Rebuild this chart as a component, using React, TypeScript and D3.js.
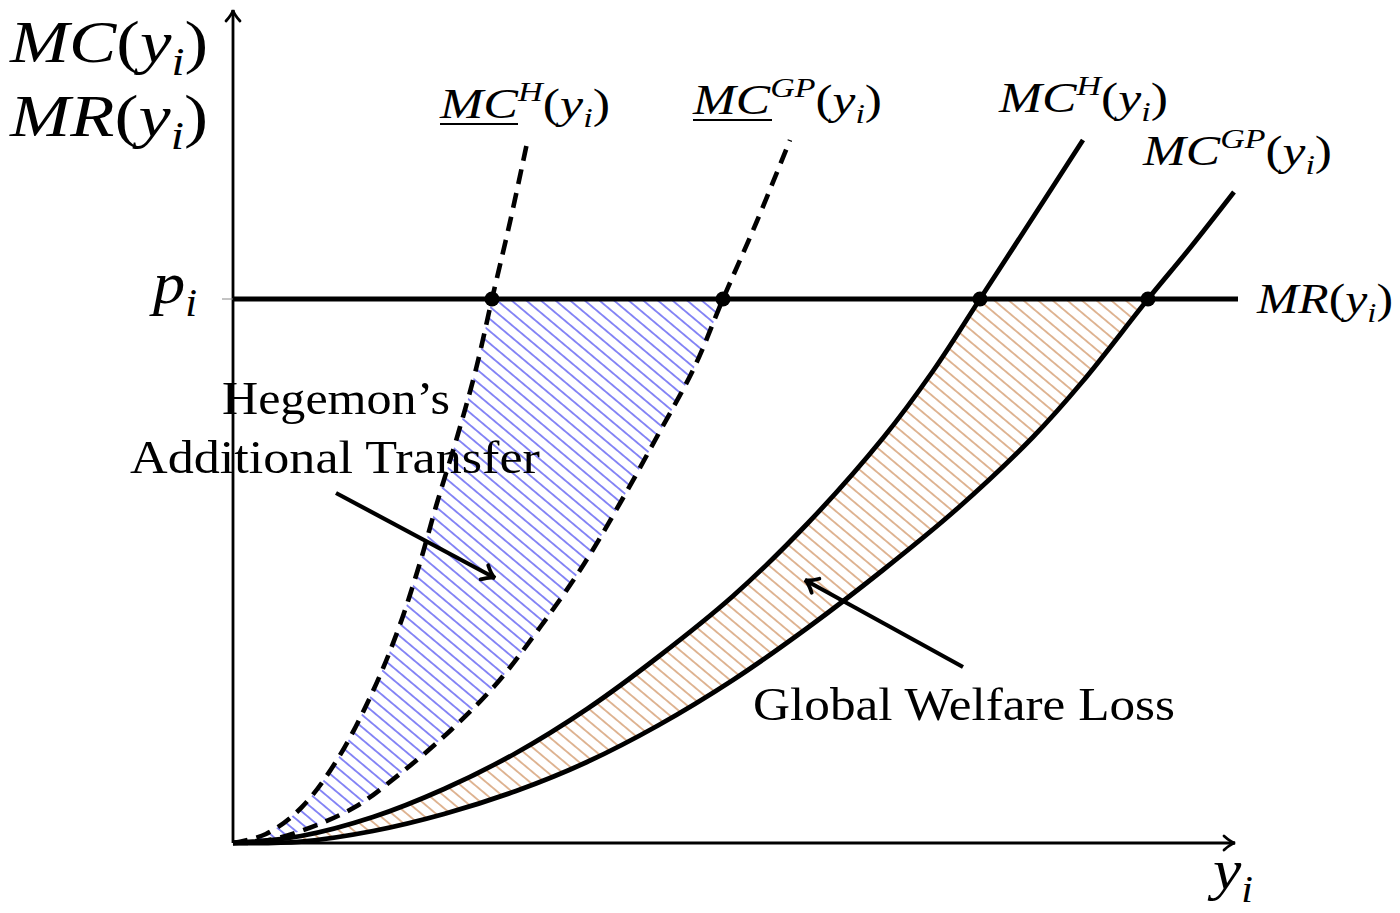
import React, { useEffect, useRef } from 'react';
import * as d3 from 'd3';

// price level where MR(y_i) crosses the cost curves
const priceLevel = 5.44;

// lower (underlined) Hegemon marginal cost, dashed
const mcHLowX = [0, 0.33, 0.68, 1.04, 1.4, 1.65, 1.86, 2.04, 2.25, 2.43, 2.59, 2.77, 2.94];
const mcHLowY = [0, 0.09, 0.35, 0.83, 1.52, 2.13, 2.77, 3.4, 4.09, 4.74, 5.44, 6.21, 7.0];

// lower (underlined) Great Power marginal cost, dashed
const mcGPLowX = [0, 0.26, 0.68, 1.22, 1.68, 2.18, 2.65, 3.08, 3.51, 3.9, 4.26, 4.61, 4.9, 5.24, 5.57];
const mcGPLowY = [0, 0.01, 0.12, 0.36, 0.7, 1.13, 1.61, 2.17, 2.79, 3.45, 4.1, 4.75, 5.44, 6.22, 7.03];

// Hegemon marginal cost, solid
const mcHX = [0, 0.68, 1.4, 2.11, 2.83, 3.54, 4.25, 5.0, 5.75, 6.5, 7.0, 7.47, 7.97, 8.5];
const mcHY = [0, 0.07, 0.26, 0.54, 0.9, 1.34, 1.86, 2.47, 3.2, 4.05, 4.72, 5.44, 6.21, 7.03];

// Great Power marginal cost, solid
const mcGPX = [0, 0.68, 1.4, 2.11, 2.83, 3.54, 4.25, 5.0, 5.75, 6.5, 7.25, 8.0, 8.5, 9.15, 9.57, 10.01];
const mcGPY = [0, 0.014, 0.12, 0.29, 0.52, 0.81, 1.175, 1.63, 2.155, 2.73, 3.35, 4.06, 4.62, 5.44, 5.95, 6.51];

// where each curve meets MR(y_i)
const crossX = [2.59, 4.9, 7.47, 9.15];

const FONT = '"Liberation Serif", "DejaVu Serif", serif';

type Part = [string, 'it' | 'up' | 'sub' | 'sup'];

const App: React.FC = () => {
  const svgRef = useRef<SVGSVGElement>(null);

  useEffect(() => {
    if (!svgRef.current) return;
    const svg = d3.select(svgRef.current);
    svg.selectAll('*').remove();

    const x = d3.scaleLinear().domain([0, 11.67]).range([233, 1400]);
    const y = d3.scaleLinear().domain([0, 8.43]).range([843, 0]);

    const zip = (xs: number[], ys: number[]) => xs.map((v, i) => [v, ys[i]] as [number, number]);
    const hLow = zip(mcHLowX, mcHLowY);
    const gpLow = zip(mcGPLowX, mcGPLowY);
    const hSolid = zip(mcHX, mcHY);
    const gpSolid = zip(mcGPX, mcGPY);

    const line = d3.line<[number, number]>()
      .x(d => x(d[0]))
      .y(d => y(d[1]))
      .curve(d3.curveCatmullRom.alpha(0.5));

    const defs = svg.append('defs');

    // hatch patterns
    const hatch = (id: string, color: string) => {
      const p = defs.append('pattern')
        .attr('id', id)
        .attr('patternUnits', 'userSpaceOnUse')
        .attr('width', 20)
        .attr('height', 9.4)
        .attr('patternTransform', 'rotate(40)');
      p.append('line')
        .attr('x1', 0).attr('x2', 20)
        .attr('y1', 4.7).attr('y2', 4.7)
        .attr('stroke', color)
        .attr('stroke-width', 1.6);
    };
    hatch('hatchBlue', '#6e6ef4');
    hatch('hatchOrange', '#d9a67e');

    // arrow heads (open, curved barbs)
    const arrow = (id: string, len: number, half: number, sw: number) => {
      defs.append('marker')
        .attr('id', id)
        .attr('markerUnits', 'userSpaceOnUse')
        .attr('viewBox', '-20 -15 30 30')
        .attr('markerWidth', 30)
        .attr('markerHeight', 30)
        .attr('refX', 0)
        .attr('refY', 0)
        .attr('orient', 'auto')
        .append('path')
        .attr('d', `M${-len},${-half} Q${-len * 0.4},-1 0,0 Q${-len * 0.4},1 ${-len},${half}`)
        .attr('fill', 'none')
        .attr('stroke', '#000')
        .attr('stroke-width', sw)
        .attr('stroke-linecap', 'round');
    };
    arrow('axisArrow', 11, 7, 2.8);
    arrow('noteArrow', 12, 8, 3.8);

    // shaded regions between curves, capped by MR
    const region = (a: [number, number][], b: [number, number][]) => {
      const lo = a.filter(d => d[1] <= priceLevel);
      const hi = b.filter(d => d[1] <= priceLevel).slice().reverse();
      const p1 = line(lo) as string;
      const p2 = (line(hi) as string).replace(/^M/, 'L');
      return p1 + p2 + 'Z';
    };
    svg.append('path').attr('d', region(hLow, gpLow)).attr('fill', 'url(#hatchBlue)');
    svg.append('path').attr('d', region(hSolid, gpSolid)).attr('fill', 'url(#hatchOrange)');

    // axes
    svg.append('line')
      .attr('x1', x(0)).attr('y1', y(0))
      .attr('x2', x(0)).attr('y2', y(8.33))
      .attr('stroke', '#000').attr('stroke-width', 2.8)
      .attr('marker-end', 'url(#axisArrow)');
    svg.append('line')
      .attr('x1', x(0)).attr('y1', y(0))
      .attr('x2', x(10.02)).attr('y2', y(0))
      .attr('stroke', '#000').attr('stroke-width', 2.8)
      .attr('marker-end', 'url(#axisArrow)');

    // p_i tick
    svg.append('line')
      .attr('x1', x(-0.11)).attr('x2', x(0))
      .attr('y1', y(priceLevel)).attr('y2', y(priceLevel))
      .attr('stroke', '#888').attr('stroke-width', 1);

    // MR line
    svg.append('line')
      .attr('x1', x(0)).attr('x2', x(10.05))
      .attr('y1', y(priceLevel)).attr('y2', y(priceLevel))
      .attr('stroke', '#000').attr('stroke-width', 5);

    // curves
    [hLow, gpLow].forEach(c => {
      svg.append('path')
        .attr('d', line(c) as string)
        .attr('fill', 'none')
        .attr('stroke', '#000')
        .attr('stroke-width', 4.6)
        .attr('stroke-dasharray', '15 9');
    });
    [hSolid, gpSolid].forEach(c => {
      svg.append('path')
        .attr('d', line(c) as string)
        .attr('fill', 'none')
        .attr('stroke', '#000')
        .attr('stroke-width', 4.8);
    });

    // intersection dots
    svg.selectAll('.dot')
      .data(crossX)
      .enter()
      .append('circle')
      .attr('class', 'dot')
      .attr('cx', d => x(d))
      .attr('cy', y(priceLevel))
      .attr('r', 7.5)
      .attr('fill', '#000');

    // annotation arrows
    svg.append('line')
      .attr('x1', 336).attr('y1', 493)
      .attr('x2', 495).attr('y2', 578)
      .attr('stroke', '#000').attr('stroke-width', 4.2)
      .attr('marker-end', 'url(#noteArrow)');
    svg.append('line')
      .attr('x1', 963).attr('y1', 667)
      .attr('x2', 805).attr('y2', 580)
      .attr('stroke', '#000').attr('stroke-width', 4.2)
      .attr('marker-end', 'url(#noteArrow)');

    // math labels
    const math = (px: number, py: number, size: number, parts: Part[], width?: number) => {
      const t = svg.append('text')
        .attr('x', px).attr('y', py)
        .style('font-family', FONT)
        .style('font-size', `${size}px`)
        .attr('fill', '#000');
      let shift = 0;
      parts.forEach(([s, kind]) => {
        const target = kind === 'sub' ? size * 0.22 : kind === 'sup' ? -size * 0.4 : 0;
        const ts = t.append('tspan').attr('dy', target - shift).text(s);
        shift = target;
        ts.style('font-style', kind === 'up' ? 'normal' : 'italic');
        if (kind === 'sub' || kind === 'sup') ts.style('font-size', `${size * 0.66}px`);
      });
      if (width) t.attr('textLength', width).attr('lengthAdjust', 'spacingAndGlyphs');
      return t;
    };

    const mcOf = (sup: string | null): Part[] => {
      const p: Part[] = [['MC', 'it']];
      if (sup) p.push([sup, 'sup']);
      p.push(['(', 'up'], ['y', 'it'], ['i', 'sub'], [')', 'up']);
      return p;
    };

    math(10, 62, 60, mcOf(null), 198);
    math(10, 136, 60, [['MR', 'it'], ['(', 'up'], ['y', 'it'], ['i', 'sub'], [')', 'up']], 198);
    math(153, 303, 60, [['p', 'it'], ['i', 'sub']], 44);
    math(1213, 889, 58, [['y', 'it'], ['i', 'sub']], 40);
    math(1257, 313, 42, [['MR', 'it'], ['(', 'up'], ['y', 'it'], ['i', 'sub'], [')', 'up']], 136);

    math(440, 118, 42, mcOf('H'), 170);
    math(693, 114, 42, mcOf('GP'), 189);
    math(999, 112, 42, mcOf('H'), 169);
    math(1143, 165, 42, mcOf('GP'), 189);

    // underlines for the lower-bound curves
    svg.append('line').attr('x1', 440).attr('x2', 518).attr('y1', 124).attr('y2', 124)
      .attr('stroke', '#000').attr('stroke-width', 2.2);
    svg.append('line').attr('x1', 693).attr('x2', 772).attr('y1', 120).attr('y2', 120)
      .attr('stroke', '#000').attr('stroke-width', 2.2);

    // plain text notes
    const note = (s: string, px: number, py: number, w: number) => {
      svg.append('text')
        .attr('x', px).attr('y', py)
        .attr('textLength', w)
        .attr('lengthAdjust', 'spacingAndGlyphs')
        .style('font-family', FONT)
        .style('font-size', '47px')
        .attr('fill', '#000')
        .text(s);
    };
    note('Hegemon\u2019s', 222, 414, 228);
    note('Additional Transfer', 130, 473, 410);
    note('Global Welfare Loss', 753, 720, 422);
  }, []);

  return (
    <svg
      ref={svgRef}
      width={1400}
      height={913}
      style={{ position: 'absolute', left: 0, top: 0, background: '#fff' }}
    />
  );
};

export default App;
